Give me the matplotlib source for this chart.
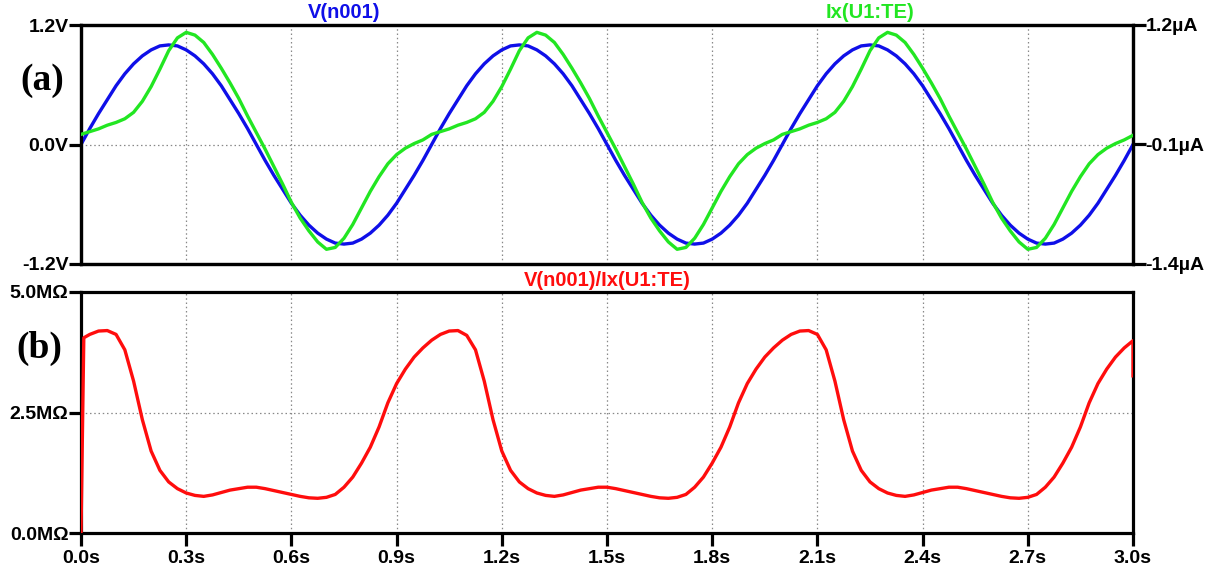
import matplotlib
matplotlib.use("Agg")
import matplotlib.pyplot as plt
import numpy as np

# time axis (s), samples every 0.025 s
t = np.linspace(0, 3, 121)

# V(n001) in volts
v_n001 = [
    0.00, 0.16, 0.31, 0.45, 0.59, 0.71, 0.81, 0.89, 0.95, 0.99,
    1.00, 0.99, 0.95, 0.89, 0.81, 0.71, 0.59, 0.45, 0.31, 0.16,
    0.00, -0.16, -0.31, -0.45, -0.59, -0.71, -0.81, -0.89, -0.95, -0.99,
    -1.00, -0.99, -0.95, -0.89, -0.81, -0.71, -0.59, -0.45, -0.31, -0.16,
    0.00, 0.16, 0.31, 0.45, 0.59, 0.71, 0.81, 0.89, 0.95, 0.99,
    1.00, 0.99, 0.95, 0.89, 0.81, 0.71, 0.59, 0.45, 0.31, 0.16,
    0.00, -0.16, -0.31, -0.45, -0.59, -0.71, -0.81, -0.89, -0.95, -0.99,
    -1.00, -0.99, -0.95, -0.89, -0.81, -0.71, -0.59, -0.45, -0.31, -0.16,
    0.00, 0.16, 0.31, 0.45, 0.59, 0.71, 0.81, 0.89, 0.95, 0.99,
    1.00, 0.99, 0.95, 0.89, 0.81, 0.71, 0.59, 0.45, 0.31, 0.16,
    0.00, -0.16, -0.31, -0.45, -0.59, -0.71, -0.81, -0.89, -0.95, -0.99,
    -1.00, -0.99, -0.95, -0.89, -0.81, -0.71, -0.59, -0.45, -0.31, -0.16,
    0.00,
]

# Ix(U1:TE) in microamps
ix_te = [
    0.01, 0.04, 0.07, 0.11, 0.14, 0.18, 0.25, 0.37, 0.53, 0.72,
    0.92, 1.06, 1.12, 1.09, 1.01, 0.88, 0.73, 0.57, 0.40, 0.21,
    0.03, -0.15, -0.34, -0.53, -0.73, -0.90, -1.04, -1.16, -1.24, -1.22,
    -1.12, -0.97, -0.79, -0.61, -0.45, -0.31, -0.21, -0.14, -0.09, -0.05,
    0.01, 0.04, 0.07, 0.11, 0.14, 0.18, 0.25, 0.37, 0.53, 0.72,
    0.92, 1.06, 1.12, 1.09, 1.01, 0.88, 0.73, 0.57, 0.40, 0.21,
    0.03, -0.15, -0.34, -0.53, -0.73, -0.90, -1.04, -1.16, -1.24, -1.22,
    -1.12, -0.97, -0.79, -0.61, -0.45, -0.31, -0.21, -0.14, -0.09, -0.05,
    0.01, 0.04, 0.07, 0.11, 0.14, 0.18, 0.25, 0.37, 0.53, 0.72,
    0.92, 1.06, 1.12, 1.09, 1.01, 0.88, 0.73, 0.57, 0.40, 0.21,
    0.03, -0.15, -0.34, -0.53, -0.73, -0.90, -1.04, -1.16, -1.24, -1.22,
    -1.12, -0.97, -0.79, -0.61, -0.45, -0.31, -0.21, -0.14, -0.09, -0.05,
    0.00,
]

# V(n001)/Ix(U1:TE) in megaohms (starts with the jump at t=0, ends with a drop at 3 s)
t_ratio = np.concatenate(([0.0, 0.008], t[1:], [3.0]))
ratio = [
    0.00, 4.05,
    4.12, 4.19, 4.20, 4.12, 3.80, 3.15, 2.35, 1.70, 1.30, 1.06,
    0.92, 0.83, 0.78, 0.76, 0.79, 0.84, 0.89, 0.92, 0.95, 0.95,
    0.92, 0.88, 0.84, 0.80, 0.76, 0.73, 0.72, 0.74, 0.80, 0.95,
    1.16, 1.45, 1.78, 2.20, 2.70, 3.10, 3.40, 3.65, 3.84, 4.00,
    4.12, 4.19, 4.20, 4.10, 3.80, 3.15, 2.35, 1.70, 1.30, 1.06,
    0.92, 0.83, 0.78, 0.76, 0.79, 0.84, 0.89, 0.92, 0.95, 0.95,
    0.92, 0.88, 0.84, 0.80, 0.76, 0.73, 0.72, 0.74, 0.80, 0.95,
    1.16, 1.45, 1.78, 2.20, 2.70, 3.10, 3.40, 3.65, 3.84, 4.00,
    4.12, 4.19, 4.20, 4.12, 3.80, 3.15, 2.35, 1.70, 1.30, 1.06,
    0.92, 0.83, 0.78, 0.76, 0.79, 0.84, 0.89, 0.92, 0.95, 0.95,
    0.92, 0.88, 0.84, 0.80, 0.76, 0.73, 0.72, 0.74, 0.80, 0.95,
    1.16, 1.45, 1.78, 2.20, 2.70, 3.10, 3.40, 3.65, 3.84, 3.99,
    3.26,
]

x_ticks = [0.0, 0.3, 0.6, 0.9, 1.2, 1.5, 1.8, 2.1, 2.4, 2.7, 3.0]
x_labels = ['0.0s', '0.3s', '0.6s', '0.9s', '1.2s', '1.5s', '1.8s', '2.1s', '2.4s', '2.7s', '3.0s']
v_ticks = [-1.2, 0.0, 1.2]
v_labels = ['-1.2V', '0.0V', '1.2V']
i_ticks = [-1.4, -0.1, 1.2]
i_labels = ['-1.4µA', '-0.1µA', '1.2µA']
r_ticks = [0.0, 2.5, 5.0]
r_labels = ['0.0MΩ', '2.5MΩ', '5.0MΩ']

BLUE = '#0f0fe8'
GREEN = '#22e622'
RED = '#ff0d0d'
TICK_FS = 14
TITLE_FS = 14.5

plt.rcParams['font.family'] = ['Liberation Sans', 'DejaVu Sans']
plt.rcParams['font.weight'] = 'bold'

W, H = 1215, 572
fig = plt.figure(figsize=(W / 100, H / 100), dpi=100)

def px_axes(left, top, right, bottom):
    return fig.add_axes([left / W, 1 - bottom / H, (right - left) / W, (bottom - top) / H])

def style(ax):
    for s in ax.spines.values():
        s.set_linewidth(2.3)
        s.set_color('black')
    ax.tick_params(width=2.3, length=9, labelsize=TICK_FS, pad=0, colors='black')
    ax.grid(True, linestyle=(0, (1.2, 2.2)), color='#888888', linewidth=0.9)
    ax.set_axisbelow(True)

ax1 = px_axes(81, 25, 1133, 264)
ax1.plot(t, v_n001, color=BLUE, lw=2.4, zorder=3)
ax1.set_xlim(0, 3)
ax1.set_ylim(-1.2, 1.2)
ax1.set_xticks(x_ticks)
ax1.set_xticklabels([])
ax1.set_yticks(v_ticks)
ax1.set_yticklabels(v_labels)
style(ax1)
ax1.tick_params(axis='x', length=0)

ax1r = ax1.twinx()
ax1r.plot(t, ix_te, color=GREEN, lw=2.4, zorder=4)
ax1r.set_ylim(-1.4, 1.2)
ax1r.set_yticks(i_ticks)
ax1r.set_yticklabels(i_labels)
for s in ax1r.spines.values():
    s.set_linewidth(2.3)
ax1r.tick_params(width=2.3, length=9, labelsize=TICK_FS, pad=0)

ax2 = px_axes(81, 292, 1133, 533)
ax2.plot(t_ratio, ratio, color=RED, lw=2.4, zorder=3)
ax2.set_xlim(0, 3)
ax2.set_ylim(0, 5)
ax2.set_xticks(x_ticks)
ax2.set_xticklabels(x_labels)
ax2.set_yticks(r_ticks)
ax2.set_yticklabels(r_labels)
style(ax2)
ax2.tick_params(axis='x', pad=3)

def ftext(x, y, s, **kw):
    fig.text(x / W, 1 - y / H, s, ha='center', va='center', **kw)

ftext(344, 13, 'V(n001)', color=BLUE, fontsize=TITLE_FS, fontweight='bold')
ftext(870, 13, 'Ix(U1:TE)', color=GREEN, fontsize=TITLE_FS, fontweight='bold')
ftext(607, 280, 'V(n001)/Ix(U1:TE)', color=RED, fontsize=TITLE_FS, fontweight='bold')
ftext(42, 80, '(a)', family='Liberation Serif', fontsize=27, fontweight='bold')
ftext(39, 348, '(b)', family='Liberation Serif', fontsize=27, fontweight='bold')

fig.savefig('out.png', dpi=100)
